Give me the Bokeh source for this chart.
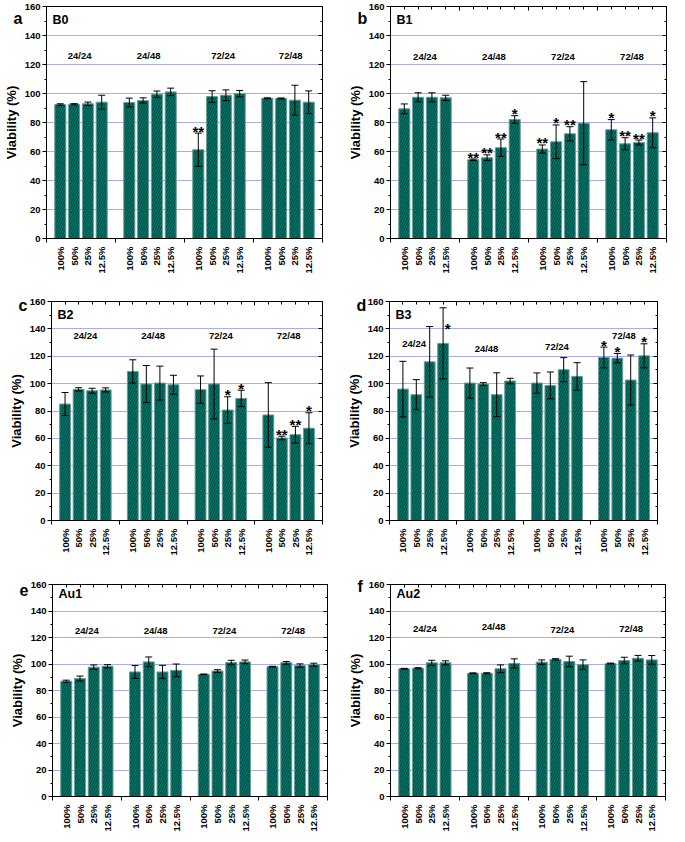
import math
from bokeh.plotting import figure
from bokeh.models import (ColumnDataSource, Whisker, FixedTicker, LinearAxis, Label,
                          Range1d, TeeHead, Title)
from bokeh.layouts import column, row
from bokeh.embed import file_html
from bokeh.resources import INLINE
from bokeh.core.properties import value

FONT = "Liberation Sans"

categories = ["100%", "50%", "25%", "12.5%"]
groups = ["24/24", "24/48", "72/24", "72/48"]

b0_mean = [92.4, 92.6, 92.9, 94.0, 93.8, 95.2, 99.5, 101.1, 61.2, 97.9, 98.8, 99.9, 96.7, 96.6, 95.4, 94.0]
b0_err = [0.5, 0.4, 1.2, 4.8, 3.0, 1.8, 2.2, 2.6, 11.5, 4.0, 3.7, 2.2, 0.3, 0.3, 10.3, 7.8]
b0_sig = ["", "", "", "", "", "", "", "", "**", "", "", "", "", "", "", ""]

b1_mean = [89.4, 97.4, 97.4, 97.0, 54.3, 55.7, 62.6, 82.1, 61.7, 66.7, 72.2, 79.5, 75.0, 65.3, 66.2, 72.9]
b1_err = [3.4, 3.1, 3.1, 1.8, 0.5, 2.0, 6.0, 2.6, 2.8, 11.6, 4.9, 28.7, 7.0, 4.2, 1.7, 10.3]
b1_sig = ["", "", "", "", "**", "**", "**", "*", "**", "*", "**", "", "*", "**", "**", "*"]

b2_mean = [85.1, 95.8, 94.8, 95.4, 108.9, 99.7, 100.4, 99.2, 95.6, 99.7, 80.7, 89.2, 77.1, 60.3, 62.7, 67.4]
b2_err = [8.4, 1.2, 1.8, 1.5, 8.5, 13.5, 12.4, 6.9, 10.0, 25.5, 9.7, 6.0, 23.6, 1.3, 6.1, 11.3]
b2_sig = ["", "", "", "", "", "", "", "", "", "", "*", "*", "", "**", "**", "*"]

b3_mean = [96.0, 91.9, 115.9, 129.4, 100.4, 99.7, 91.9, 101.9, 100.4, 98.7, 110.2, 105.3, 119.1, 118.6, 102.6, 120.3]
b3_err = [20.3, 11.0, 25.8, 26.0, 11.0, 1.0, 16.0, 2.0, 7.4, 9.8, 8.8, 10.0, 7.6, 3.4, 18.3, 8.8]
b3_sig = ["", "", "", "*", "", "", "", "", "", "", "", "", "*", "*", "", "*"]

au1_mean = [87.0, 89.0, 97.6, 98.3, 94.0, 101.6, 94.0, 95.2, 92.2, 94.7, 101.1, 101.6, 98.0, 100.9, 98.8, 99.5]
au1_err = [0.8, 1.9, 1.7, 1.2, 4.8, 3.7, 5.0, 4.8, 0.2, 1.0, 1.7, 1.4, 0.3, 1.0, 1.3, 1.1]
au1_sig = [""] * 16

au2_mean = [96.4, 96.8, 100.9, 100.9, 93.0, 93.0, 96.4, 100.4, 101.4, 103.5, 101.9, 99.5, 100.4, 102.6, 104.3, 103.1]
au2_err = [0.3, 0.4, 1.9, 1.5, 0.3, 0.4, 2.9, 3.5, 1.7, 0.5, 4.0, 3.6, 0.3, 2.5, 2.2, 3.3]
au2_sig = [""] * 16

FILL = "#00776a"
HATCH = "#003a33"
GRID = "#aaaaee"


def make_panel(letter, name, mean, err, sig, group_x, group_y, geom, letter_drop,
               top_ticks=True):
    w, h, bl, br, bt, bb = geom
    fh = h - bt - bb
    p = figure(width=w, height=h, x_range=Range1d(0, 20), y_range=Range1d(0, 160),
               output_backend="svg", toolbar_location=None,
               min_border_left=bl, min_border_right=br, min_border_top=bt, min_border_bottom=bb)
    p.background_fill_color = "white"
    p.outline_line_color = "black"
    p.outline_line_width = 1

    # panel letter as title (not clipped to the frame)
    off = max(-33, -bl + 1)
    p.title = Title(text=letter, align="left", vertical_align="bottom", offset=off,
                    standoff=-2 * letter_drop, text_font=FONT, text_font_style="bold",
                    text_font_size="16px", text_color="black", text_line_height=0.1)

    xs = [g * 5 + c + 1 for g in range(len(groups)) for c in range(len(categories))]
    labels = [categories[c] for g in range(len(groups)) for c in range(len(categories))]
    upper = [m + e for m, e in zip(mean, err)]
    lower = [m - e for m, e in zip(mean, err)]
    src = ColumnDataSource(dict(x=xs, top=mean, upper=upper, lower=lower))

    keep = [i for i, s in enumerate(sig) if s]
    star_src = ColumnDataSource(dict(
        sx=[xs[i] + (0.35 if upper[i] > 150 else 0) for i in keep],
        sy=[min(upper[i], 139) for i in keep],
        sig=[sig[i] for i in keep]))

    p.vbar(x="x", top="top", width=0.8, bottom=0, source=src,
           fill_color=FILL, line_color="#6f9c96", line_width=1,
           hatch_pattern="/", hatch_color=HATCH, hatch_scale=5, hatch_weight=0.8)

    wk = Whisker(source=src, base="x", upper="upper", lower="lower",
                 line_color="black", line_width=1, level="overlay",
                 upper_head=TeeHead(size=7, line_color="black", line_width=1),
                 lower_head=TeeHead(size=7, line_color="black", line_width=1))
    p.add_layout(wk)

    if keep:
        p.text(x="sx", y="sy", text="sig", source=star_src, text_font=value(FONT),
               text_font_style="bold", text_font_size="15px", text_align="center",
               text_baseline="alphabetic", y_offset=-2, text_color="black")

    p.text(x=group_x, y=group_y, text=groups, text_font=value(FONT),
           text_font_style="bold", text_font_size="9.5px", text_align="center",
           text_baseline="middle", text_color="black")

    # grid
    p.xgrid.visible = False
    p.ygrid.ticker = FixedTicker(ticks=list(range(20, 160, 20)))
    p.ygrid.grid_line_color = GRID
    p.ygrid.grid_line_width = 1

    # bottom axis
    xa = p.xaxis[0]
    xa.ticker = FixedTicker(ticks=xs, minor_ticks=[0, 5, 10, 15, 20])
    xa.major_label_overrides = {x: l for x, l in zip(xs, labels)}
    xa.major_label_orientation = math.pi / 2
    xa.major_tick_out = 0
    xa.major_tick_in = 0
    xa.minor_tick_out = 4
    xa.minor_tick_in = 0
    xa.major_label_standoff = 4
    xa.major_label_text_font = FONT
    xa.major_label_text_font_style = "bold"
    xa.major_label_text_font_size = "9.5px"
    xa.major_label_text_color = "black"
    xa.axis_line_color = "black"
    xa.minor_tick_line_color = "black"

    # left axis
    ya = p.yaxis[0]
    ya.ticker = FixedTicker(ticks=list(range(0, 161, 20)), minor_ticks=list(range(10, 160, 20)))
    ya.major_tick_out = 4
    ya.major_tick_in = 0
    ya.minor_tick_out = 2
    ya.minor_tick_in = 0
    ya.major_label_standoff = 2
    ya.major_label_text_font = FONT
    ya.major_label_text_font_style = "bold"
    ya.major_label_text_font_size = "9.5px"
    ya.major_label_text_color = "black"
    ya.axis_label = "Viability (%)"
    ya.axis_label_text_font = FONT
    ya.axis_label_text_font_style = "bold"
    ya.axis_label_text_font_size = "13px"
    ya.axis_label_text_color = "black"
    ya.axis_label_standoff = 3
    ya.axis_line_color = "black"
    ya.major_tick_line_color = "black"
    ya.minor_tick_line_color = "black"

    # right mirror axis (ticks only)
    ra = LinearAxis(ticker=FixedTicker(ticks=list(range(0, 161, 20)),
                                       minor_ticks=list(range(10, 160, 20))),
                    major_label_text_font_size="0px", major_label_text_color=None,
                    major_label_standoff=0,
                    major_tick_in=4, major_tick_out=0, minor_tick_in=2, minor_tick_out=0,
                    axis_line_color="black")
    p.add_layout(ra, "right")

    if top_ticks:
        ta = LinearAxis(ticker=FixedTicker(ticks=[0, 5, 10, 15, 20], minor_ticks=list(range(0, 21))),
                        major_label_text_font_size="0px", major_label_text_color=None,
                        major_label_standoff=0,
                        major_tick_in=4, major_tick_out=0, minor_tick_in=3, minor_tick_out=0,
                        axis_line_color="black")
        p.add_layout(ta, "above")

    # panel name inside
    p.add_layout(Label(x=6, y=fh - 13, x_units="screen", y_units="screen", text=name,
                       text_font=FONT, text_font_style="bold", text_font_size="12.5px",
                       text_baseline="middle", text_align="left", text_color="black"))
    return p


centers = [2.5, 7.5, 12.5, 17.5]

pa = make_panel("a", "B0", b0_mean, b0_err, b0_sig, [2.4, 7.4, 12.8, 17.7], [126, 126, 126, 126],
                (334, 280, 35, 12, 6, 42), 20, top_ticks=False)
pb = make_panel("b", "B1", b1_mean, b1_err, b1_sig, centers, [125.5] * 4,
                (335, 280, 56, 3, 6, 42), 20)
pc = make_panel("c", "B2", b2_mean, b2_err, b2_sig, centers, [135] * 4,
                (334, 284, 51, 12, 21, 44), 12)
pd_ = make_panel("d", "B3", b3_mean, b3_err, b3_sig, [1.84, 7.24, 12.5, 17.5],
                 [129.4, 125.4, 127.4, 135.2], (335, 284, 55, 12, 21, 44), 12)
pe = make_panel("e", "Au1", au1_mean, au1_err, au1_sig, centers, [125.5] * 4,
                (334, 270, 52, 7, 20, 34), 11)
pf = make_panel("f", "Au2", au2_mean, au2_err, au2_sig, centers, [126.5, 128, 126, 126.5],
                (335, 270, 56, 4, 20, 34), 10)

layout = column(row(pa, pb), row(pc, pd_), row(pe, pf))

open("out.html", "w").write(file_html(layout, INLINE))
